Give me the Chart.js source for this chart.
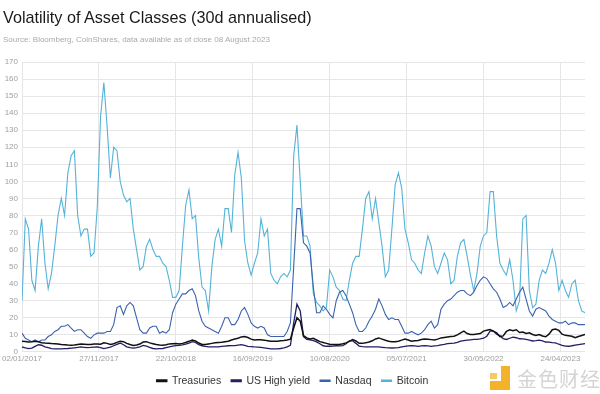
<!DOCTYPE html>
<html><head><meta charset="utf-8">
<script src="https://cdn.jsdelivr.net/npm/chart.js@4.4.0/dist/chart.umd.min.js"></script>
<style>
html,body{margin:0;padding:0;background:#fff;overflow:hidden;}
#wrap{position:relative;width:600px;height:394px;overflow:hidden;background:#fff;}
#title{position:absolute;left:3px;top:8px;font:16.2px "Liberation Sans",Arial,sans-serif;color:#1a1a1a;white-space:nowrap;}
#sub{position:absolute;left:3px;top:35px;font:8px "Liberation Sans",Arial,sans-serif;color:#aaa;white-space:nowrap;}
#c{position:absolute;left:0;top:0;}
#wm{position:absolute;left:490px;top:364px;width:110px;height:30px;}
#wmicon{position:absolute;left:0;top:2px;width:22px;height:24px;}
#wmicon .a{position:absolute;left:11px;top:0;width:9px;height:15px;background:#f3b22a;}
#wmicon .b{position:absolute;left:0;top:15px;width:20px;height:9px;background:#f3b22a;}
#wmicon .c{position:absolute;left:0;top:7px;width:7px;height:6px;background:#f7c964;}
#wmtext{position:absolute;left:27px;top:0;font:20px "Noto Sans CJK SC",sans-serif;color:#d4d4d4;letter-spacing:1px;white-space:nowrap;}
</style></head>
<body>
<div id="wrap">
<canvas id="c" width="600" height="400"></canvas>
<div id="title">Volatility of Asset Classes (30d annualised)</div>
<div id="sub">Source: Bloomberg, CoinShares, data available as of close 08 August 2023</div>
<div id="wm"><div id="wmicon"><div class="a"></div><div class="b"></div><div class="c"></div></div><div id="wmtext">金色财经</div></div>
</div>
<script>
// Fortnightly observations starting 02/01/2017 (step in days)
const STEP_DAYS = 14;
const TICK_STEP_DAYS = 329;
const xTickLabels = ['02/01/2017','27/11/2017','22/10/2018','16/09/2019','10/08/2020','05/07/2021','30/05/2022','24/04/2023'];
const yTicks = [0,10,20,30,40,50,60,70,80,90,100,110,120,130,140,150,160,170];

const bitcoin = [
 30,78,72,42,36,62,78,52,37,46,62,80,90,80,105,115,118,80,68,72,72,56,58,85,138,
 158,132,102,120,118,100,92,88,90,72,60,48,50,62,66,60,56,56,52,50,42,32,32,36,
 62,86,95,78,80,55,38,36,24,50,66,72,62,84,84,70,104,117,102,65,52,45,52,58,
 78,68,72,46,42,40,44,46,44,48,115,133,100,68,68,62,34,29,27,24,26,48,44,38,36,
 31,30,42,52,56,56,72,90,94,78,90,76,62,44,48,72,98,105,96,72,64,54,52,48,
 46,58,68,62,50,46,52,58,54,40,42,56,64,66,56,45,36,46,62,68,70,94,94,68,
 52,48,45,54,42,24,30,78,80,36,26,28,42,48,46,52,60,52,36,42,36,32,40,42,30,24,23
];
const nasdaq = [
 11,8,7,6,7,6,7,7,9,10,12,13,15,15,16,14,12,13,13,11,9,8,10,
 11,11,11,12,12,16,26,27,22,27,29,27,20,13,11,11,14,15,15,11,12,11,13,23,28,31,
 34,34,36,37,33,24,18,15,14,13,12,11,15,20,20,16,16,19,24,26,22,17,15,14,
 15,14,10,9,9,9,9,9,12,17,50,84,84,64,62,58,38,23,23,27,25,22,20,30,35,
 36,33,28,23,16,12,12,14,18,21,25,31,27,22,19,20,19,19,15,11,11,12,11,10,
 11,13,16,18,14,16,25,28,30,31,33,35,36,36,34,33,35,39,42,44,43,40,37,35,31,
 26,27,29,27,31,35,38,31,24,21,25,26,25,24,21,19,18,17,17,18,16,17,17,16,16,16
];
const treasuries = [
 6.3,6.1,5.8,5.9,6.2,6.0,5.4,5.2,5.1,4.9,4.8,4.6,4.3,4.2,4.0,3.9,4.1,4.4,4.7,4.5,4.3,4.4,4.7,4.6,4.5,
 5.3,5.0,4.3,4.8,5.6,6.3,6.0,5.0,4.3,3.8,4.0,4.6,5.8,6.0,5.3,4.8,4.3,4.0,3.9,4.2,4.7,4.8,4.9,4.6,
 5.0,5.5,6.2,7.0,6.4,5.2,4.4,4.4,4.7,5.0,5.3,5.5,5.7,6.0,6.3,7.0,7.6,8.0,8.8,9.0,8.4,7.5,7.0,7.1,
 7.1,6.9,6.6,6.3,6.3,6.3,6.5,6.7,7.0,7.5,14,20,18,9.5,8.2,7.6,8.0,7.0,6.0,5.5,5.0,4.5,4.3,4.3,4.4,
 4.8,5.3,6.2,7.2,6.4,5.0,5.0,5.3,5.8,6.5,7.6,8.2,7.5,6.8,6.3,6.0,5.9,6.3,6.9,7.5,7.0,6.3,6.5,6.7,
 7.3,7.6,7.4,7.2,7.0,7.5,8.2,8.5,8.8,9.0,9.2,10.0,11.2,12.2,10.8,10.2,10.2,10.5,10.8,12.2,12.7,13.1,12.2,11.2,
 9.0,9.4,12.0,13.0,12.4,13.0,11.4,11.6,10.8,11.2,10.2,9.7,10.2,9.3,8.9,10.4,13.0,13.4,12.6,10.4,9.7,9.5,9.2,8.3,9.0,9.6,10.2
];
const usHighYield = [
 2.9,2.3,1.9,2.2,3.2,4.2,3.9,3.0,2.5,1.9,1.8,1.8,1.8,1.9,2.0,2.2,2.4,2.6,2.9,2.7,2.5,2.6,2.8,2.9,2.5,
 1.9,2.3,2.8,3.6,4.4,5.2,4.2,3.0,2.5,2.2,2.5,3.0,3.8,3.4,2.6,2.0,1.8,1.9,2.0,2.5,3.0,3.4,3.7,3.8,
 4.1,4.5,5.2,6.0,5.6,4.2,3.6,3.2,3.0,2.9,2.9,3.0,3.2,3.4,3.6,3.7,3.7,4.0,4.3,3.8,3.3,3.1,2.9,2.8,
 2.6,2.4,2.1,1.8,1.8,1.8,2.0,2.4,2.9,3.8,17,28,24,9.0,7.3,7.1,6.6,5.9,4.8,3.6,3.3,3.3,3.4,3.6,3.5,
 3.7,4.8,6.5,6.5,5.0,3.4,3.1,2.9,2.9,2.9,2.9,2.9,2.7,2.5,2.4,2.3,2.4,2.5,2.9,3.3,3.5,3.7,3.5,3.3,
 3.5,3.7,3.5,3.3,3.5,3.7,4.1,4.4,4.8,5.0,5.2,5.6,6.3,6.6,6.9,7.1,7.3,7.4,7.6,8.0,9.2,12.2,12.2,10.4,
 9.4,7.8,7.3,8.0,8.7,8.3,7.7,7.6,7.3,6.9,6.4,6.6,6.9,6.4,5.8,5.7,5.4,5.3,4.5,3.8,3.4,3.3,3.6,4.0,4.3,4.6,4.9
];

const toXY = arr => arr.map((v, i) => ({x: i * STEP_DAYS, y: v}));
const lastX = (bitcoin.length - 1) * STEP_DAYS;

const series = [
  {label:'Treasuries', data:treasuries, color:'#111111', width:1.5},
  {label:'US High yield', data:usHighYield, color:'#221f62', width:1.3},
  {label:'Nasdaq', data:nasdaq, color:'#3b63ad', width:1.1},
  {label:'Bitcoin', data:bitcoin, color:'#55b3d9', width:1.1}
];

const FONT = '"Liberation Sans", Arial, sans-serif';

new Chart(document.getElementById('c'), {
  type: 'line',
  data: {
    datasets: series.map((s, k) => ({
      label: s.label,
      data: toXY(s.data),
      borderColor: s.color,
      backgroundColor: s.color,
      borderWidth: s.width,
      pointRadius: 0,
      tension: 0,
      order: k
    }))
  },
  options: {
    responsive: false,
    animation: false,
    layout: {padding: {top: 62, right: 15, left: 0, bottom: 4}},
    plugins: {
      legend: {
        position: 'bottom',
        labels: {
          boxWidth: 10, boxHeight: 1.5, padding: 10,
          color: '#333', font: {family: FONT, size: 10.5}
        }
      },
      tooltip: {enabled: false}
    },
    scales: {
      x: {
        type: 'linear', min: 0, max: lastX,
        afterBuildTicks: s => { s.ticks = xTickLabels.map((l, k) => ({value: k * TICK_STEP_DAYS})); },
        ticks: {
          autoSkip: false, maxRotation: 0, padding: 2,
          callback: (v, idx) => xTickLabels[idx],
          color: '#a0a0a0', font: {family: FONT, size: 8}
        },
        grid: {color: '#e6e6e6', drawTicks: false, lineWidth: 1},
        border: {display: false}
      },
      y: {
        min: 0, max: 170,
        afterBuildTicks: s => { s.ticks = yTicks.map(v => ({value: v})); },
        afterFit: s => { s.width = 20; },
        ticks: {
          padding: 4,
          color: '#a0a0a0', font: {family: FONT, size: 8}
        },
        grid: {color: '#e6e6e6', drawTicks: false, lineWidth: 1},
        border: {display: false}
      }
    }
  }
});
</script>
</body></html>
